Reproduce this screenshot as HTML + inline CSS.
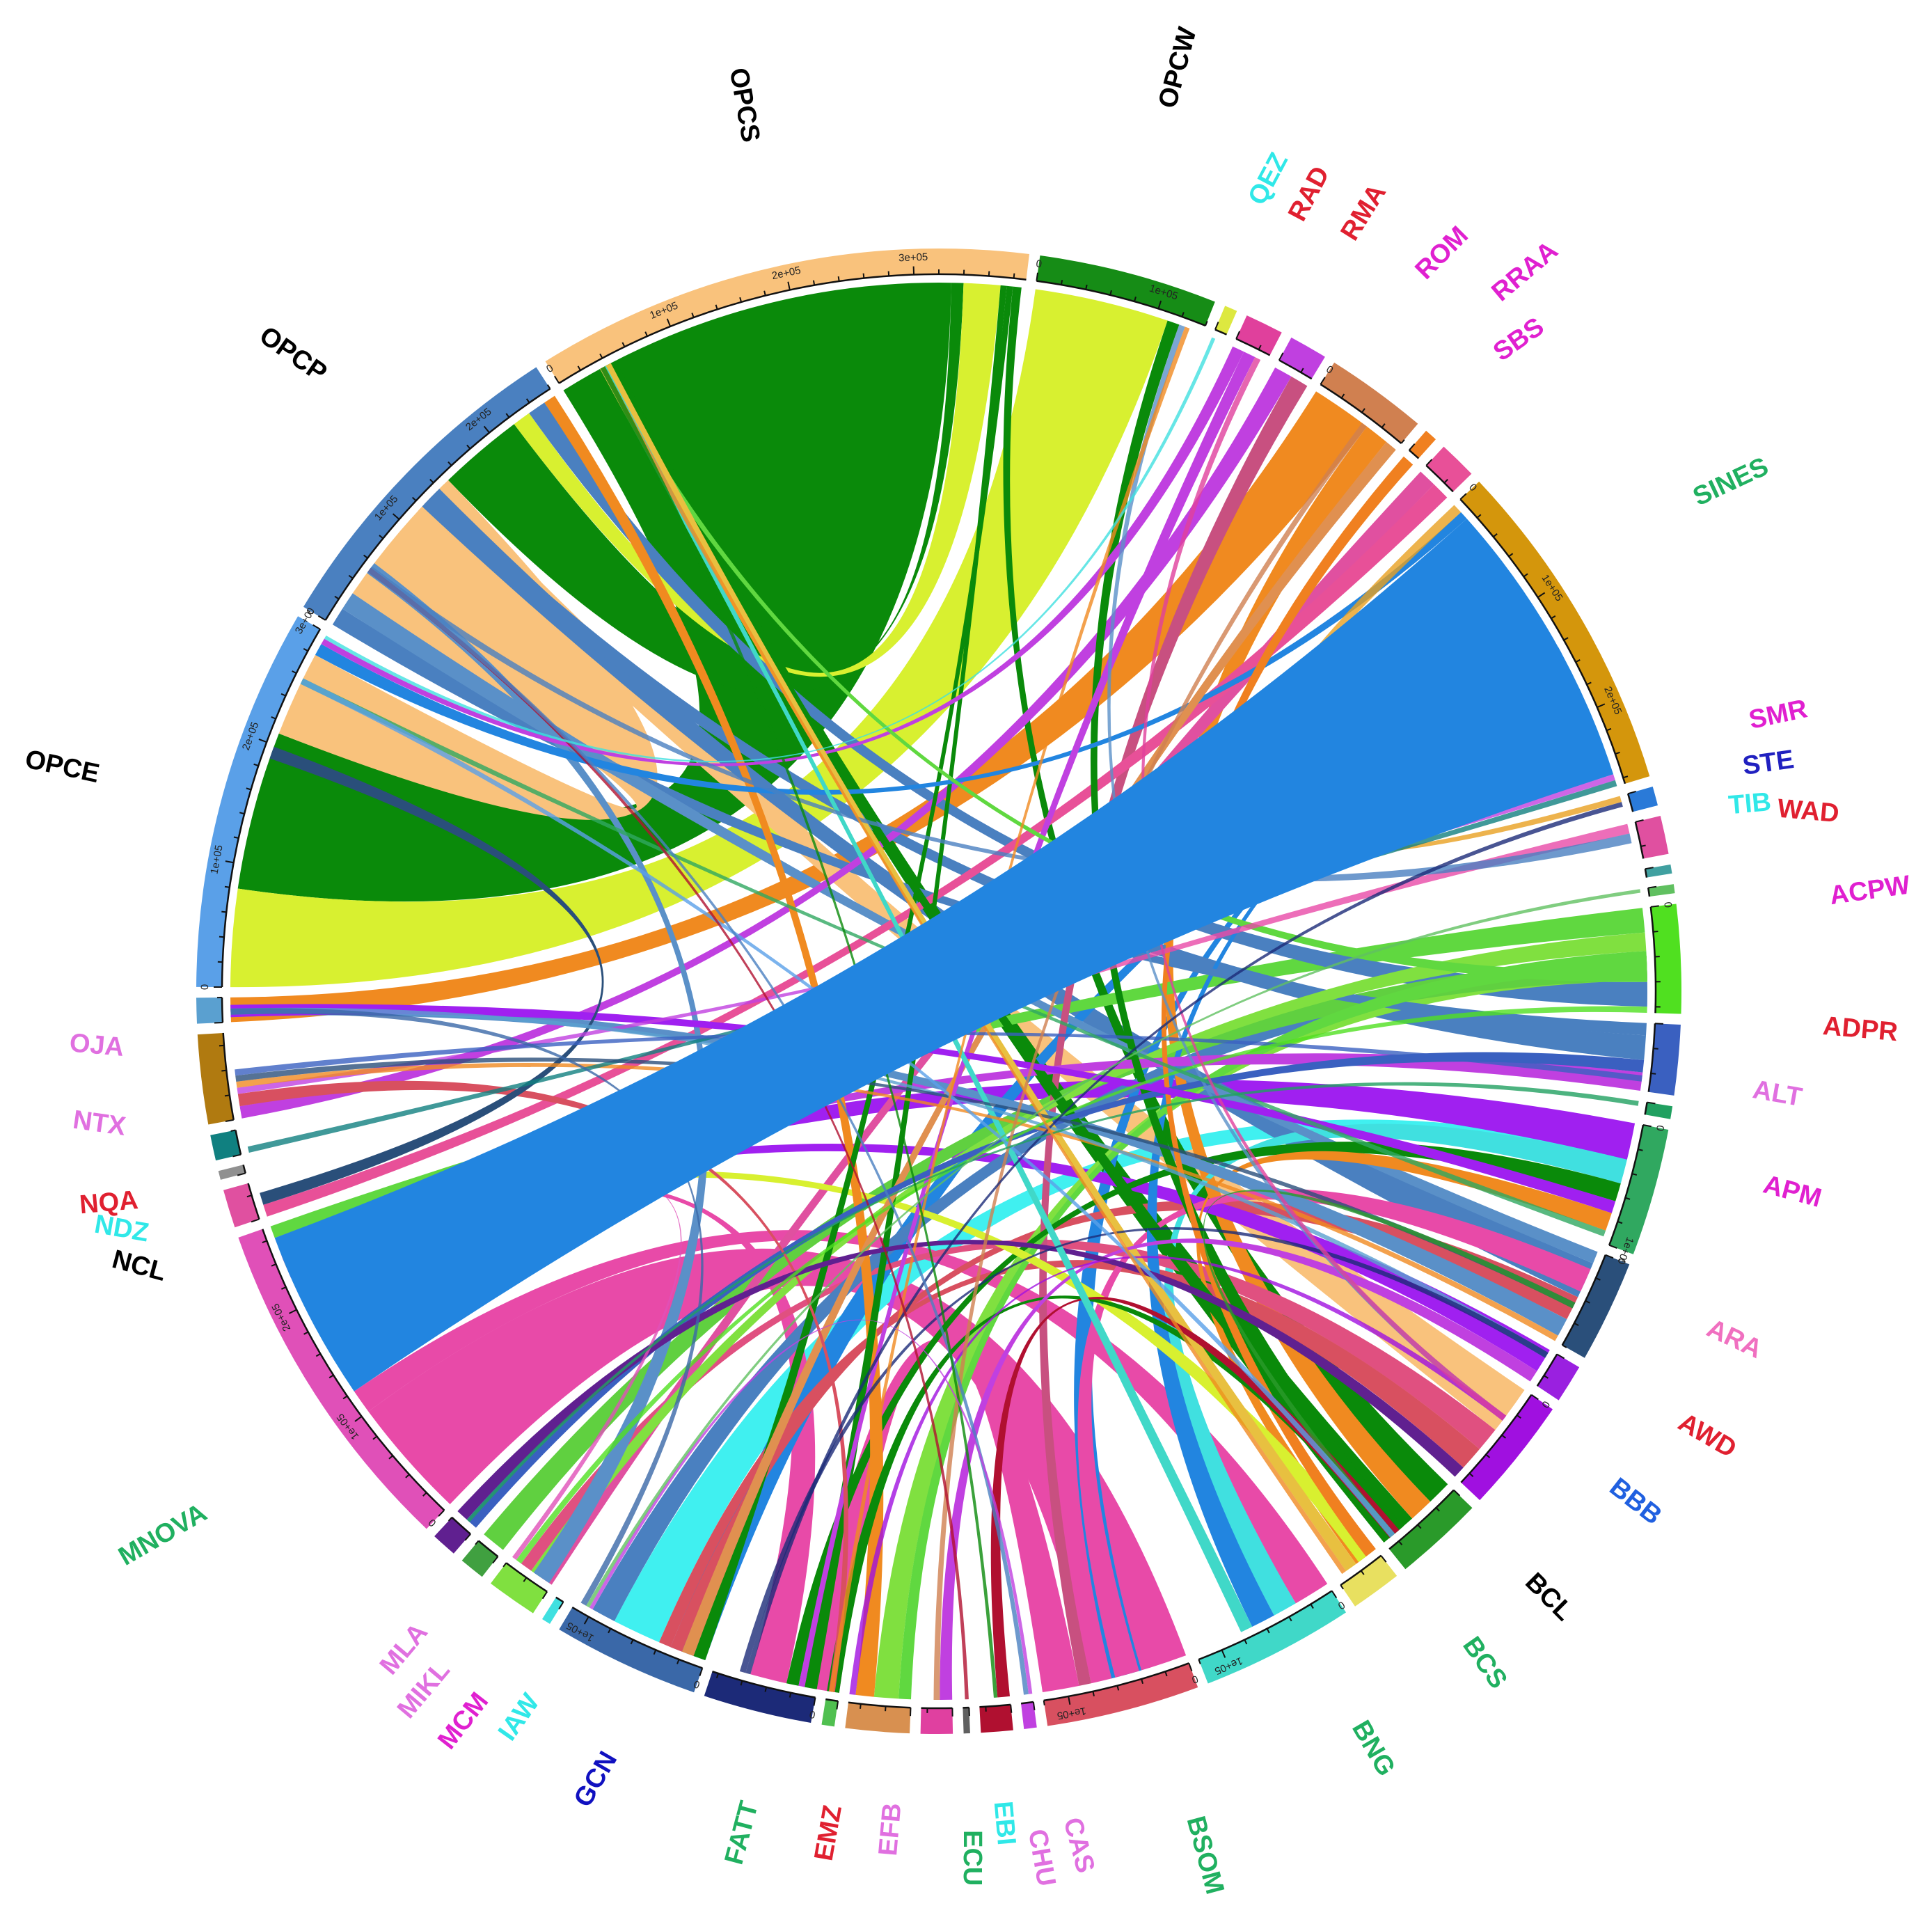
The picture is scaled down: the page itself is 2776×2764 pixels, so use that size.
<!DOCTYPE html>
<html><head><meta charset="utf-8"><style>
html,body{margin:0;padding:0;background:#fff}
svg{display:block}
.lab{font-family:"Liberation Sans",sans-serif;font-weight:bold;font-size:38px}
.tk{font-family:"Liberation Sans",sans-serif;font-size:15px;fill:#222}
</style></head><body>
<svg id="chart" width="2776" height="2764" viewBox="0 0 2776 2764" xmlns="http://www.w3.org/2000/svg">
<g id="chords"></g>
<g id="tracks"></g>
<g id="labels"></g>
</svg>
<script>
// ---- data ----
const sectorNames = ["OPCS","OPCW","QEZ","RAD","RMA","ROM","RRAA","SBS","SINES","SMR","STE","TIB","WAD","ACPW","ADPR","ALT","APM","ARA","AWD","BBB","BCL","BCS","BNG","BSOM","CAS","CHU","EBI","ECU","EFB","EMZ","FATT","GCN","IAW","MCM","MIKL","MLA","MNOVA","NCL","NDZ","NQA","NTX","OJA","OPCE","OPCP"];
// sector sizes in units of 1e4
const sectorValues = [39,14,1,3,3,8,1,3,26.5,1.5,3,0.7,0.7,8.5,5.5,1,10,8,3,9,7,4,12,12,1,2.5,0.5,2.5,5,1,8.5,11.5,0.7,4,2,2,27,3,0.7,2,7,2,30,26];
// chords: from sector, to sector, width at from, width at to
const chordFrom = [43,43,1,0,43,43,0,0,0,0, 36,36,8,8,8,
  5,5,5,3,3,4,4,6,7,7, 13,13,13,13,13, 14,14,14, 16,16,16,16,16, 17,17,17, 18,19,19,19, 20,20,20,20, 21,21,
  30,31,31,28,28,34,33,23,23,27,25,29,35,37,40,40,41,39,
  8,8,8, 1,1,10,10,9,2,22,24,26,17,15,14,12,13,16,19,20,31,30,36,42,43,0,0,3,5];
const chordTo   = [14,17,42,42,42,0,43,30,31,20, 23,22,9,42,36,
  41,20,31,42,30,40,23,21,33,37, 36,33,28,0,43, 43,35,36, 36,22,30,41,21, 43,31,41, 36,43,33,31, 0,0,1,29, 0,36,
  36,16,13,13,43,13,43,29,17,18,20,40,19,42,8,17,18,8,
  31,23,22, 19,29,36,43,30,42,0,31,43,40,35,40,31,33,42,28,17,41,18,33,20,24,21,25,19,27];
const chordW1   = [1.5,1.5,11,33,12,7,3,0.5,0.5,0.7, 10,2,0.8,0.7,24,
  5,2,1,1,1,1.5,1.5,1,1.5,1.5, 2,1.5,1.5,1,2, 2,1,1.5, 3,2,1.5,1,1.5, 3,2,1.5, 2,4,2,2, 3,1.5,1.5,1, 1,1.5,
  3,4,2,2,1.5,2,1.5,3,2,1,1,0.5,1,1,0.5,0.5,0.5,0.5,
  0.6,0.6,0.5, 0.5,0.4,0.8,0.8,0.4,0.3,1,0.3,0.3,0.5,0.4,0.5,0.3,0.5,0.5,0.5,0.5,0.5,0.5,0.5,0.5,0.4,0.4,0.4,0.5,0.5];
const chordW2   = [1,1,8,13,7,1,1.5,1,1,2, 8,3,0.5,1,14,
  2,2,1,0.5,0.5,1,1,1,1,1, 1,1,1,0.5,1.5, 1.5,1,1, 2,2,1,1,1, 2,1,1, 1,3,1,1, 1.5,1,1,1, 1,1,
  1,2,2,2,1,2,1,3,2,1,1,1,1,1,0.5,0.5,0.5,0.5,
  3,2.5,2,0.5,0.4,0.5,0.6,0.4,0.3,0.5,0.3,0.4,0.5,0.3,0.5,0.3,0.5,0.5,0.5,0.5,0.5,0.5,0.4,0.5,0.4,0.4,0.3,0.5,0.5];
// ---- styles ----
const sectorColors = ["#f9c27c","#168c16","#dde840","#e0409c","#c040e0","#d08050","#f08020","#e85098","#d4960c","#2a7ad8","#e050a0","#40a0a0","#60c060","#50e020","#3a60c0","#20a060","#30a860","#2a4f7a","#9a20e0","#a010e0","#2a9a2a","#e8e060","#40d8c8","#d85060","#c040e0","#b01030","#606060","#e040a0","#d89050","#50c050","#1c2a78","#3a68a8","#40e0e0","#80e040","#40a040","#602090","#e050b8","#e050a0","#909090","#108080","#b07a10","#5aa0d0","#5aa0e8","#4a80c0"];
const chordColors = ["#4a80c0","#5a90c8","#d8f030","#0a8a0a","#f9c27c","#0a8a0a","#d8f030","#0a8a0a","#0a8a0a","#0a8a0a","#e84aa8","#e84aa8","#e8a020","#2285e0","#2285e0",
  "#f08a20","#f08a20","#e09050","#c040e0","#c040e0","#c040e0","#c85080","#f08020","#e050a0","#e85098",
  "#60d840","#80e040","#60d840","#60d840","#4a80c0","#4a80c0","#3a60c0","#c040e0",
  "#a020f0","#40e0e0","#0a8a0a","#a020f0","#f08a20","#4a80c0","#d85060","#5a90c8","#a020f0","#f9c27c","#e05080","#d85060",
  "#0a8a0a","#0a8a0a","#0a8a0a","#0a8a0a","#e8c040","#d8f030",
  "#e84aa8","#40f0f0","#4a80c0","#80e040","#f08a20","#60d040","#5a90c8","#e84aa8","#e84aa8","#c040e0","#b01030","#d85060","#602090","#2a4f7a","#c040e0","#f08a20","#5aa0d0","#108080",
  "#2285e0","#2285e0","#2285e0","#5a90c8","#f08a20","#e84aa8","#4a80c0","#1c2a78","#40e0e0","#40d8c8","#c040e0","#b01030","#2a4f7a","#20a060","#3a60c0","#60c060","#50e020","#30a860","#a010e0","#2a9a2a","#3a68a8","#1c2a78","#e050b8","#5aa0e8","#4a80c0","#f08a20","#0a8a0a","#e0409c","#d08050"];
// labels: name, x, y (in 1560-px reference scale), rotation, color
const labelNames = ["OPCS","OPCW","QEZ","RAD","RMA","ROM","RRAA","SBS","SINES","SMR","STE","TIB","WAD","ACPW","ADPR","ALT","APM","ARA","AWD","BBB","BCL","BCS","BNG","BSOM","CAS","CHU","EBI","ECU","EFB","EMZ","FATT","GCN","IAW","MCM","MIKL","MLA","MNOVA","NCL","NDZ","NQA","NTX","OJA","OPCE","OPCP"];
const labelPos = [[600,85,80],[952,55,-75],[1025,145,-62],[1058,157,-62],[1102,172,-58],[1165,205,-45],[1232,220,-40],[1227,275,-35],[1398,390,-25],[1436,578,-12],[1428,617,-8],[1413,650,-5],[1460,656,5],[1510,720,-8],[1502,832,5],[1435,884,10],[1447,963,15],[1400,1082,25],[1378,1160,30],[1320,1213,38],[1250,1290,45],[1198,1343,55],[1108,1412,60],[972,1498,75],[870,1490,75],[840,1500,80],[810,1472,85],[784,1500,90],[720,1477,-85],[670,1480,-80],[600,1480,-75],[482,1437,-60],[420,1387,-55],[375,1390,-52],[343,1365,-50],[327,1332,-50],[132,1240,-30],[112,1023,15],[98,993,10],[88,972,-5],[80,908,8],[78,845,5],[50,620,12],[236,287,35]];
const labelColors = ["#000","#000","#30e8e8","#e02030","#e02030","#e020d0","#e020d0","#e020d0","#20b060","#e020d0","#2020c0","#30e8e8","#e02030","#e020d0","#e02030","#e070e0","#e020d0","#f070c0","#e02030","#2060e0","#000","#20b060","#20b060","#20b060","#e070e0","#e070e0","#30e8e8","#20b060","#e070e0","#e02030","#20b060","#1010c0","#30e8e8","#e020d0","#e070e0","#e070e0","#20b060","#000","#30e8e8","#e02030","#e070e0","#e070e0","#000","#000"];

// ---- layout ----
const NS="http://www.w3.org/2000/svg";
const CX=1349, CY=1424, R_OUT=1067, R_IN=1030, R_CH=1018, START=-32, S=2776/1560;
const total = sectorValues.reduce((a,b)=>a+b,0);
const gap = (360-total)/sectorValues.length;
const secStart=[]; let acc=START;
for(let i=0;i<sectorValues.length;i++){secStart.push(acc);acc+=sectorValues[i]+gap;}
function ang(i,v){return secStart[i]+v;}
function pt(a,r){const t=a*Math.PI/180;return [CX+r*Math.sin(t),CY-r*Math.cos(t)];}
function arcPath(a1,a2,r,sweep){const p=pt(a2,r);const large=Math.abs(a2-a1)>180?1:0;return `A${r} ${r} 0 ${large} ${sweep} ${p[0].toFixed(1)} ${p[1].toFixed(1)}`;}

// tracks
const tg=document.getElementById('tracks');
for(let i=0;i<sectorValues.length;i++){
  const a1=ang(i,0),a2=ang(i,sectorValues[i]);
  const p1=pt(a1,R_OUT),p3=pt(a2,R_IN);
  const d=`M${p1[0]} ${p1[1]} ${arcPath(a1,a2,R_OUT,1)} L${p3[0]} ${p3[1]} ${arcPath(a2,a1,R_IN,0)} Z`;
  const el=document.createElementNS(NS,'path');
  el.setAttribute('d',d);el.setAttribute('fill',sectorColors[i]);
  
  
  tg.appendChild(el);
  // axis
  const q=pt(a1,R_IN);
  const ax=document.createElementNS(NS,'path');
  ax.setAttribute('d',`M${q[0]} ${q[1]} ${arcPath(a1,a2,R_IN,1)}`);
  ax.setAttribute('fill','none');ax.setAttribute('stroke','#111');ax.setAttribute('stroke-width','2.5');
  
  
  tg.appendChild(ax);
  for(let v=0;v<=sectorValues[i]+1e-6;v+=2){
    const major=(v%10===0);
    const a=ang(i,v);const s=pt(a,R_IN),e=pt(a,R_IN+(major?12:7));
    const tk=document.createElementNS(NS,'line');
    tk.setAttribute('x1',s[0]);tk.setAttribute('y1',s[1]);tk.setAttribute('x2',e[0]);tk.setAttribute('y2',e[1]);
    tk.setAttribute('stroke','#111');tk.setAttribute('stroke-width','2');
    
    
    tg.appendChild(tk);
    if(major && sectorValues[i]>=8){
      const lp=pt(a,R_IN+24);
      const tx=document.createElementNS(NS,'text');
      tx.setAttribute('x',lp[0]);tx.setAttribute('y',lp[1]);tx.setAttribute('class','tk');
      tx.setAttribute('text-anchor','middle');tx.setAttribute('dominant-baseline','middle');
      tx.setAttribute('transform',`rotate(${a} ${lp[0]} ${lp[1]})`);
      tx.textContent = v===0?'0':(v/10)+'e+05';
      
      
      tg.appendChild(tx);
    }
  }
}

// chords: allocate sequentially within each sector
const used=sectorValues.map(()=>0);
function alloc(i,w){let s=used[i];if(s+w>sectorValues[i]+0.01){s=Math.max(0,sectorValues[i]-w)*((used[i]*7)%10)/10;}else used[i]+=w;return [ang(i,s),ang(i,s+w)];}
const ribbons=[];
for(let k=0;k<chordFrom.length;k++){
  const A=alloc(chordFrom[k],chordW1[k]);const B=alloc(chordTo[k],chordW2[k]);
  ribbons.push({A,B,k,w:Math.max(chordW1[k],chordW2[k])});
}
ribbons.sort((a,b)=>{const ba=(a.k===14)?1:0,bb=(b.k===14)?1:0;if(ba!==bb)return ba-bb;return b.w-a.w;});
const cg=document.getElementById('chords');
for(const rb of ribbons){
  const [a1,a2]=rb.A,[b1,b2]=rb.B;
  const p1=pt(a1,R_CH),p3=pt(b1,R_CH);
  const d=`M${p1[0].toFixed(1)} ${p1[1].toFixed(1)} ${arcPath(a1,a2,R_CH,1)} Q${CX} ${CY} ${p3[0].toFixed(1)} ${p3[1].toFixed(1)} ${arcPath(b1,b2,R_CH,1)} Q${CX} ${CY} ${p1[0].toFixed(1)} ${p1[1].toFixed(1)} Z`;
  const el=document.createElementNS(NS,'path');
  el.setAttribute('d',d);el.setAttribute('fill',chordColors[rb.k]);
  if(rb.w<1){el.setAttribute('fill-opacity','0.8');}
  
  
  cg.appendChild(el);
}

// labels
const lg=document.getElementById('labels');
for(let i=0;i<labelNames.length;i++){
  const [x,y,r]=labelPos[i];const X=x*S,Y=y*S;
  const t=document.createElementNS(NS,'text');
  t.setAttribute('x',X);t.setAttribute('y',Y);t.setAttribute('class','lab');
  t.setAttribute('text-anchor','middle');t.setAttribute('dominant-baseline','middle');
  t.setAttribute('fill',labelColors[i]);
  t.setAttribute('transform',`rotate(${r} ${X} ${Y})`);
  t.textContent=labelNames[i];
  
  
  lg.appendChild(t);
}
</script>
</body></html>
